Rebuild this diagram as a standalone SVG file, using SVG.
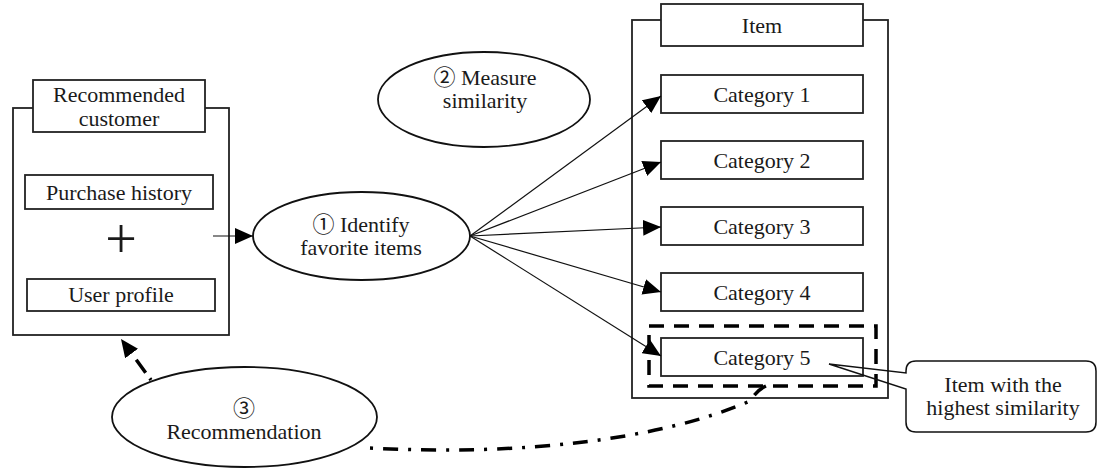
<svg xmlns="http://www.w3.org/2000/svg" width="1097" height="470" viewBox="0 0 1097 470">
<style>
  text { font-family: "Liberation Serif", "Noto Sans CJK JP", serif; font-size: 22px; fill: #1a1a1a; text-anchor: middle; }
  .box { fill: #fff; stroke: #222; stroke-width: 1.8; }
  .cont { fill: none; stroke: #222; stroke-width: 1.8; }
  .ell { fill: #fff; stroke: #111; stroke-width: 1.8; }
  .thin { fill: none; stroke: #111; stroke-width: 1.2; }
</style>
<defs>
  <marker id="arr" markerUnits="userSpaceOnUse" markerWidth="18" markerHeight="16" refX="18" refY="8" orient="auto">
    <path d="M0,0 L18,8 L0,16 Z" fill="#000"/>
  </marker>
</defs>
<rect width="1097" height="470" fill="#fff"/>

<g id="customer">
  <rect class="cont" x="13" y="108" width="216" height="227"/>
  <rect class="box" x="33" y="80" width="172" height="52"/>
  <text x="119" y="102">Recommended</text>
  <text x="119" y="126">customer</text>
</g>
<g id="purchase-history">
  <rect class="box" x="25" y="175" width="188" height="34"/>
  <text x="119" y="200">Purchase history</text>
</g>
<g id="plus">
  <text x="121" y="258" style="font-size:56px">+</text>
</g>
<g id="user-profile">
  <rect class="box" x="27" y="279" width="188" height="32"/>
  <text x="121" y="302">User profile</text>
</g>

<g id="identify">
  <ellipse class="ell" cx="361.5" cy="236" rx="108.5" ry="44"/>
  <text x="361" y="232">① Identify</text>
  <text x="361" y="255">favorite items</text>
</g>
<g id="measure">
  <ellipse class="ell" cx="484" cy="99.5" rx="106" ry="47.5"/>
  <text x="485" y="85">② Measure</text>
  <text x="485" y="108">similarity</text>
</g>
<g id="recommendation">
  <ellipse class="ell" cx="244.5" cy="417" rx="132.5" ry="50"/>
  <text x="244" y="416">③</text>
  <text x="244" y="439">Recommendation</text>
</g>

<g id="item">
  <rect class="cont" x="632" y="20" width="256" height="378"/>
  <rect class="box" x="661" y="4" width="202" height="42"/>
  <text x="762" y="33">Item</text>
</g>
<g id="category-1">
  <rect class="box" x="661" y="75" width="202" height="38"/>
  <text x="762" y="101.5">Category 1</text>
</g>
<g id="category-2">
  <rect class="box" x="661" y="141" width="202" height="38"/>
  <text x="762" y="167.5">Category 2</text>
</g>
<g id="category-3">
  <rect class="box" x="661" y="207" width="202" height="38"/>
  <text x="762" y="233.5">Category 3</text>
</g>
<g id="category-4">
  <rect class="box" x="661" y="273" width="202" height="38"/>
  <text x="762" y="299.5">Category 4</text>
</g>
<g id="category-5">
  <rect class="box" x="661" y="338" width="202" height="38"/>
  <text x="762" y="364.5">Category 5</text>
</g>
<g id="highlight">
  <rect x="649" y="326" width="227" height="60" fill="none" stroke="#000" stroke-width="3.5" stroke-dasharray="15 10"/>
</g>
<g id="callout">
  <path d="M916,361 H1086 Q1096,361 1096,371 V422 Q1096,432 1086,432 H916 Q906,432 906,422 V389 L829,364 L906,373 V371 Q906,361 916,361 Z" fill="none" stroke="#111" stroke-width="1.5"/>
  <text x="1003" y="392">Item with the</text>
  <text x="1003" y="415">highest similarity</text>
</g>

<g id="connectors">
  <line class="thin" x1="213" y1="236" x2="253" y2="236" marker-end="url(#arr)"/>
  <line class="thin" x1="470" y1="236" x2="661" y2="96" marker-end="url(#arr)"/>
  <line class="thin" x1="470" y1="236" x2="661" y2="162" marker-end="url(#arr)"/>
  <line class="thin" x1="470" y1="236" x2="661" y2="227" marker-end="url(#arr)"/>
  <line class="thin" x1="470" y1="236" x2="661" y2="292" marker-end="url(#arr)"/>
  <line class="thin" x1="470" y1="236" x2="661" y2="356" marker-end="url(#arr)"/>
  <path d="M151,380 L121,339" fill="none" stroke="#000" stroke-width="3.5" stroke-dasharray="2 7 16 40" marker-end="url(#arr)"/>
  <path d="M370,448 C520,456 660,440 750,401 Q757,390 766,386" fill="none" stroke="#000" stroke-width="3.5" stroke-dasharray="3 10 15 10"/>
</g>
</svg>
